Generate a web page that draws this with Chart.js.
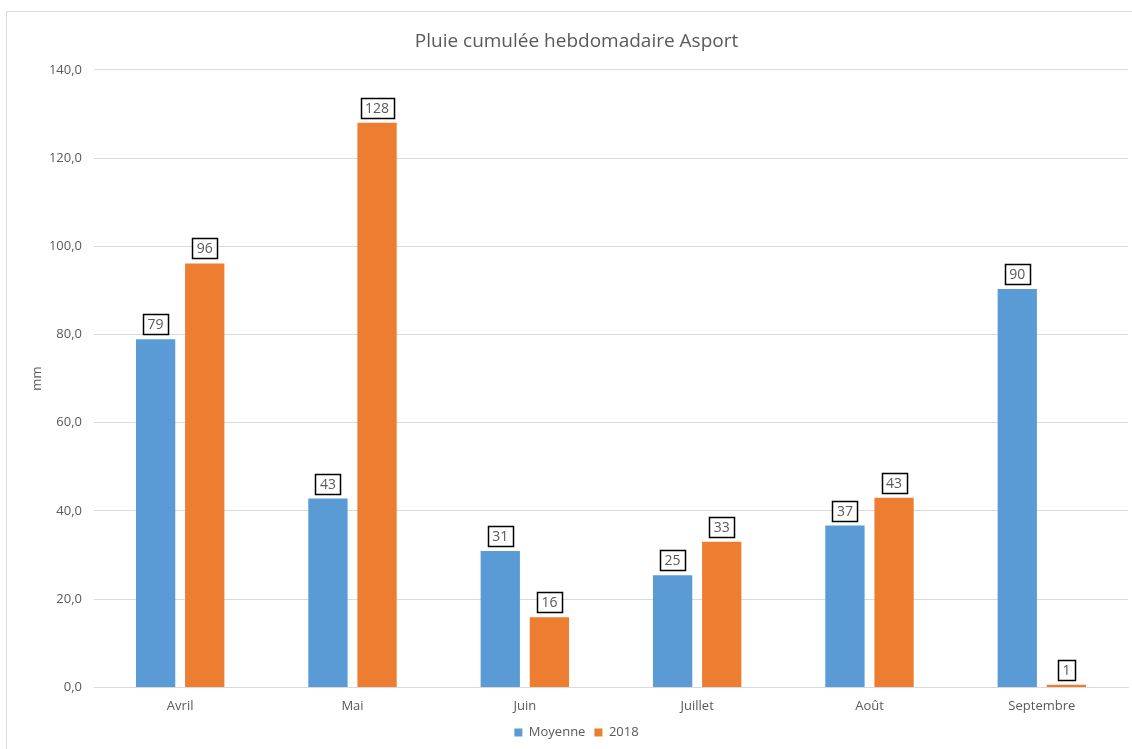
<!DOCTYPE html>
<html>
<head>
<meta charset="utf-8">
<script src="https://cdn.jsdelivr.net/npm/chart.js@4.4.1/dist/chart.umd.min.js"></script>
<style>
  html, body { margin: 0; padding: 0; background: #fff; }
  #wrap { position: relative; width: 1132px; height: 749px; }
</style>
</head>
<body>
<div id="wrap"><canvas id="rainChart" width="1132" height="749"></canvas></div>
<script>
// --- data ---
const months = ['Avril', 'Mai', 'Juin', 'Juillet', 'Août', 'Septembre'];
const moyenne = [78.9, 42.8, 30.9, 25.4, 36.7, 90.3];
const pluie2018 = [96.1, 128.0, 15.9, 33.0, 43.0, 0.6];
const yTicks = [0, 20, 40, 60, 80, 100, 120, 140];

const FONT = '"Open Sans", "Noto Sans", sans-serif';
const GREY_TEXT = '#595959';

// frame around the whole chart (like the Excel chart border)
const framePlugin = {
    id: 'frame',
    beforeDraw(chart) {
        const ctx = chart.ctx;
        ctx.save();
        ctx.strokeStyle = '#d9d9d9';
        ctx.lineWidth = 1;
        ctx.strokeRect(6.5, 11.5, chart.width + 20, chart.height + 20);
        ctx.restore();
    }
};

// boxed value labels above each bar
const boxLabels = {
    id: 'boxLabels',
    afterDatasetsDraw(chart) {
        const ctx = chart.ctx;
        ctx.save();
        ctx.font = '14px ' + FONT;
        ctx.textAlign = 'center';
        ctx.textBaseline = 'middle';
        chart.data.datasets.forEach((ds, i) => {
            const meta = chart.getDatasetMeta(i);
            meta.data.forEach((bar, j) => {
                const txt = String(Math.round(ds.data[j]));
                const w = ctx.measureText(txt).width + 9;
                const h = 20;
                const x = Math.round(bar.x - w / 2) + 0.5;
                const y = Math.round(bar.y - 5 - h) + 0.5;
                ctx.fillStyle = '#fff';
                ctx.fillRect(x, y, w, h);
                ctx.strokeStyle = '#000';
                ctx.lineWidth = 1.5;
                ctx.strokeRect(x, y, w, h);
                ctx.fillStyle = GREY_TEXT;
                ctx.fillText(txt, bar.x, y + h / 2 + 0.5);
            });
        });
        ctx.restore();
    }
};

const ctx = document.getElementById('rainChart').getContext('2d');
new Chart(ctx, {
    type: 'bar',
    data: {
        labels: months,
        datasets: [
            {
                label: 'Moyenne',
                data: moyenne,
                backgroundColor: '#5B9BD5',
                categoryPercentage: 0.57,
                barPercentage: 0.8
            },
            {
                label: '2018',
                data: pluie2018,
                backgroundColor: '#ED7D31',
                categoryPercentage: 0.57,
                barPercentage: 0.8
            }
        ]
    },
    options: {
        responsive: false,
        animation: false,
        layout: {
            padding: { left: 25, right: 4, top: 0, bottom: 0 }
        },
        plugins: {
            title: {
                display: true,
                text: 'Pluie cumulée hebdomadaire Asport',
                color: GREY_TEXT,
                font: { family: FONT, size: 19, weight: 'normal' },
                padding: { top: 30, bottom: 17 }
            },
            legend: {
                position: 'bottom',
                labels: {
                    color: GREY_TEXT,
                    font: { family: FONT, size: 13 },
                    boxWidth: 8,
                    boxHeight: 8,
                    padding: 9
                }
            },
            tooltip: { enabled: false }
        },
        scales: {
            x: {
                grid: { display: false },
                border: { color: '#d9d9d9' },
                ticks: {
                    color: GREY_TEXT,
                    font: { family: FONT, size: 13 },
                    padding: 3
                }
            },
            y: {
                min: 0,
                max: 140,
                afterBuildTicks: (scale) => { scale.ticks = yTicks.map(v => ({ value: v })); },
                afterFit: (scale) => { scale.width = 69; },
                grid: { color: '#d9d9d9', drawTicks: false },
                border: { display: false },
                title: {
                    display: true,
                    text: 'mm',
                    color: GREY_TEXT,
                    font: { family: FONT, size: 13 }
                },
                ticks: {
                    color: GREY_TEXT,
                    font: { family: FONT, size: 13 },
                    padding: 12,
                    callback: (v) => v.toFixed(1).replace('.', ',')
                }
            }
        }
    },
    plugins: [framePlugin, boxLabels]
});
</script>
</body>
</html>
